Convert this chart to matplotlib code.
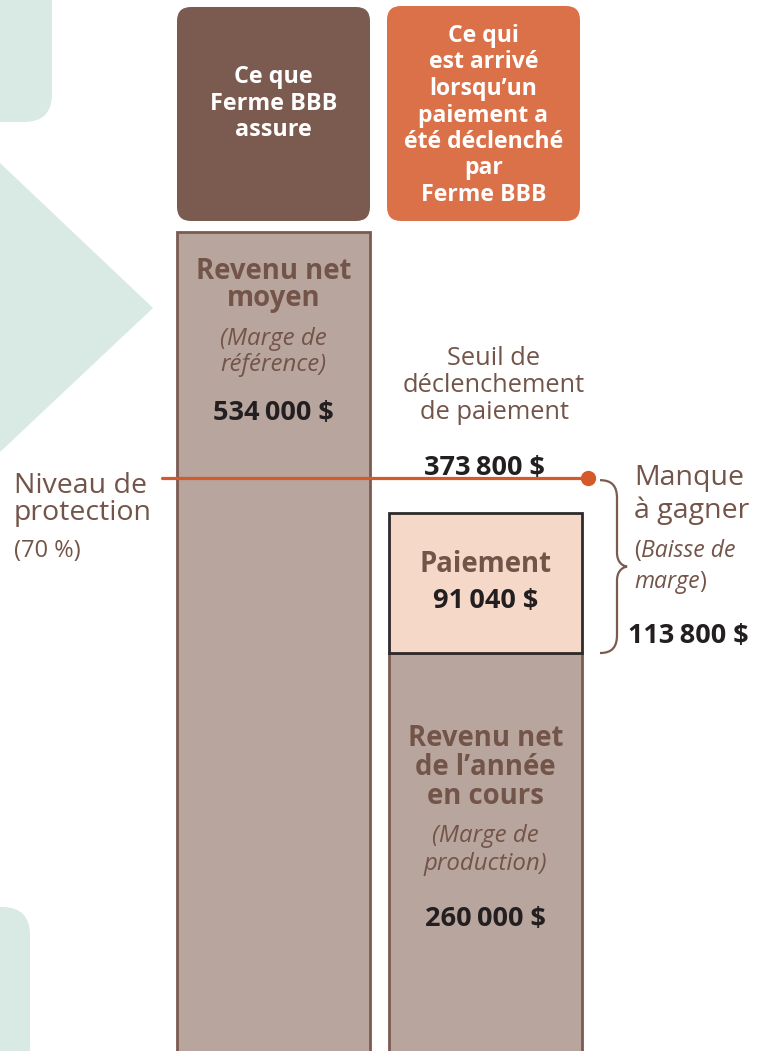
import matplotlib
matplotlib.use("Agg")
import matplotlib.pyplot as plt
from matplotlib.patches import FancyBboxPatch, Polygon, PathPatch
from matplotlib.path import Path

plt.rcParams['font.family'] = ['Open Sans', 'DejaVu Sans']

# ---------------- data ----------------
header_left = ["Ce que", "Ferme BBB", "assure"]
header_right = ["Ce qui", "est arrivé", "lorsqu\u2019un", "paiement a", "été déclenché", "par", "Ferme BBB"]
reference_margin = 534000      # Revenu net moyen (Marge de référence)
production_margin = 260000     # Revenu net de l'année en cours (Marge de production)
payment = 91040                # Paiement
trigger = 373800               # Seuil de déclenchement de paiement
shortfall = 113800             # Manque à gagner
protection_pct = 70            # Niveau de protection (%)


def fmt(v):
    s = f"{v:,}".replace(",", "\u2009")
    return s + " $"


# ---------------- colours ----------------
TEAL = "#d9e9e4"
BROWN = "#7b5b50"
ORANGE = "#db7149"
BAR = "#b8a59e"
PAY = "#f6d8c8"
PAY_EDGE = "#2e2a2a"
LINE = "#d4592b"
TXT_BROWN = "#735449"
TXT_BLACK = "#231f20"

W, H = 759, 1051
fig = plt.figure(figsize=(W / 100, H / 100), dpi=100)

# data axes (values in $)
ax = fig.add_axes([0, 0, 1, 1], zorder=1)
ax.set_xlim(0, W)
ax.set_ylim(1000, 685000)
ax.axis('off')

# overlay axes in pixel coordinates
ov = fig.add_axes([0, 0, 1, 1], zorder=2)
ov.set_xlim(0, W)
ov.set_ylim(H, 0)
ov.axis('off')
ov.patch.set_alpha(0)

y0, y1 = ax.get_ylim()


def v2py(v):
    return (y1 - v) / (y1 - y0) * H


# ---------------- background shapes ----------------
ov.add_patch(FancyBboxPatch((-60, -60), 112, 182, boxstyle="round,pad=0,rounding_size=28",
                            fc=TEAL, ec='none', zorder=0))
ov.add_patch(Polygon([(0, 163), (153, 308), (0, 452)], closed=True, fc=TEAL, ec='none', zorder=0))
ov.add_patch(FancyBboxPatch((-60, 907), 90, 250, boxstyle="round,pad=0,rounding_size=28",
                            fc=TEAL, ec='none', zorder=0))

# ---------------- headers ----------------
ov.add_patch(FancyBboxPatch((177, 7), 193, 214, boxstyle="round,pad=0,rounding_size=14",
                            fc=BROWN, ec='none', zorder=1))
ov.add_patch(FancyBboxPatch((387, 6), 193, 215, boxstyle="round,pad=0,rounding_size=14",
                            fc=ORANGE, ec='none', zorder=1))
for i, s in enumerate(header_left):
    ov.text(273.5, 83 + 26.5 * i, s, color='white', fontsize=16.8, fontweight='bold',
            ha='center', va='baseline', zorder=2)
for i, s in enumerate(header_right):
    ov.text(483.5, 42 + 26.5 * i, s, color='white', fontsize=16.6, fontweight='bold',
            ha='center', va='baseline', zorder=2)

# ---------------- bars ----------------
cx_left, cx_right, bw = 273.5, 485.5, 193
ax.bar(cx_left, reference_margin, width=bw, color=BAR, edgecolor=BROWN, linewidth=2, zorder=2)
ax.bar(cx_right, production_margin, width=bw, color=BAR, edgecolor=BROWN, linewidth=2, zorder=2)
ax.bar(cx_right, payment, bottom=production_margin, width=bw, color=PAY, edgecolor=PAY_EDGE,
       linewidth=2, zorder=3)

# protection level line
ax.plot([162, 588], [trigger, trigger], color=LINE, lw=2.3, solid_capstyle='round', zorder=4)
ax.plot([588], [trigger], 'o', color=LINE, ms=10, zorder=5)

# brace for shortfall
yt = v2py(trigger) + 2
yb = v2py(production_margin)
ym = (yt + yb) / 2
verts = [(600, yt), (612, yt), (617, yt + 6), (617, yt + 18),
         (617, ym - 14),
         (617, ym - 6), (621, ym - 1), (627, ym),
         (621, ym + 1), (617, ym + 6), (617, ym + 14),
         (617, yb - 18),
         (617, yb - 6), (612, yb), (600, yb)]
codes = [Path.MOVETO, Path.CURVE4, Path.CURVE4, Path.CURVE4,
         Path.LINETO,
         Path.CURVE4, Path.CURVE4, Path.CURVE4,
         Path.CURVE4, Path.CURVE4, Path.CURVE4,
         Path.LINETO,
         Path.CURVE4, Path.CURVE4, Path.CURVE4]
ov.add_patch(PathPatch(Path(verts, codes), fc='none', ec=BROWN, lw=1.6, zorder=3))

# ---------------- texts ----------------
def t(x, y, s, size, color=TXT_BROWN, weight='normal', style='normal', ha='center'):
    return ov.text(x, y, s, fontsize=size, color=color, fontweight=weight, fontstyle=style,
                   ha=ha, va='baseline', zorder=5)

HEAD = 19.8
ITAL = 17.3
AMT = 19.5

# left bar
t(cx_left, 279, "Revenu net", HEAD, weight='bold')
t(cx_left, 306, "moyen", HEAD, weight='bold')
t(cx_left, 345, "(Marge de", ITAL, style='italic')
t(cx_left, 371, "référence)", ITAL, style='italic')
t(cx_left, 420, fmt(reference_margin), AMT, color=TXT_BLACK, weight='bold')

# trigger text
t(494, 365, "Seuil de", 18.3)
t(494, 392, "déclenchement", 18.3)
t(494, 419, "de paiement", 18.3)
t(484, 475, fmt(trigger), AMT, color=TXT_BLACK, weight='bold')

# protection level
t(14, 493, "Niveau de", 20.5, ha='left')
t(14, 520, "protection", 20.5, ha='left')
t(14, 557, f"({protection_pct}\u00a0%)", 17, ha='left')

# shortfall
t(634, 485, "Manque", 20.5, ha='left')
t(634, 518, "à gagner", 20.5, ha='left')
p1 = t(634, 557, "(", 16.6, ha='left')
ov.annotate("Baisse de", xy=(1, 557), xycoords=(p1, 'data'), fontsize=16.6, color=TXT_BROWN,
            fontstyle='italic', ha='left', va='baseline', zorder=5)
m1 = t(634, 588, "marge", 16.6, style='italic', ha='left')
ov.annotate(")", xy=(1, 588), xycoords=(m1, 'data'), fontsize=16.6, color=TXT_BROWN,
            ha='left', va='baseline', zorder=5)
t(628, 643, fmt(shortfall), AMT, color=TXT_BLACK, weight='bold', ha='left')

# payment
t(cx_right, 572, "Paiement", HEAD, weight='bold')
t(cx_right, 608, fmt(payment), AMT, color=TXT_BLACK, weight='bold')

# current year
t(cx_right, 746, "Revenu net", HEAD, weight='bold')
t(cx_right, 775, "de l\u2019année", HEAD, weight='bold')
t(cx_right, 804, "en cours", HEAD, weight='bold')
t(cx_right, 842, "(Marge de", ITAL, style='italic')
t(cx_right, 870, "production)", ITAL, style='italic')
t(cx_right, 926, fmt(production_margin), AMT, color=TXT_BLACK, weight='bold')

fig.savefig("out.png", dpi=100)
